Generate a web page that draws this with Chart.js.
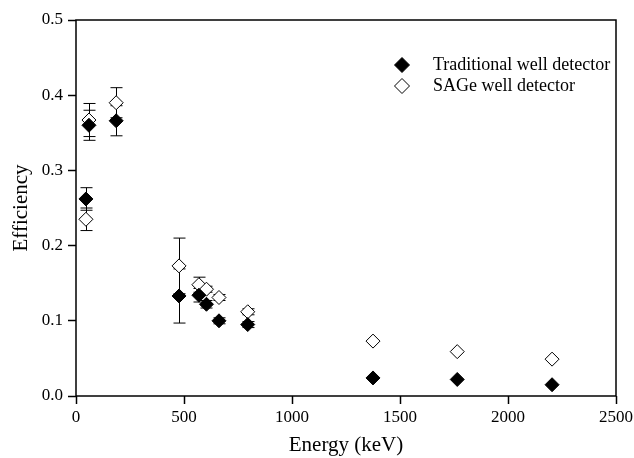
<!DOCTYPE html>
<html><head><meta charset="utf-8">
<script src="https://cdn.jsdelivr.net/npm/chart.js@4"></script>
<style>html,body{margin:0;padding:0;background:#fff}#w{width:634px;height:458px}</style>
</head><body><div id="w"><canvas id="c" width="634" height="458"></canvas></div>
<script>
const energies = [46, 60, 186, 477, 569, 604, 662, 795, 1375, 1765, 2204];
const tradEff = [0.262, 0.360, 0.366, 0.133, 0.134, 0.122, 0.100, 0.095, 0.024, 0.022, 0.015];
const sageEff = [0.235, 0.367, 0.390, 0.173, 0.148, 0.142, 0.131, 0.112, 0.073, 0.059, 0.049];
const tradErr = [0.015, 0.020, 0.020, 0.036, 0.009, 0.005, 0.004, 0.004, 0, 0, 0];
const sageErr = [0.015, 0.022, 0.020, 0.037, 0.010, 0.004, 0.004, 0.004, 0, 0, 0];
const xTicks = [0, 500, 1000, 1500, 2000, 2500];
const yTicks = [0, 0.1, 0.2, 0.3, 0.4, 0.5];
const seriesNames = ['Traditional well detector', 'SAGe well detector'];

const FONT = "'Liberation Serif', 'DejaVu Serif', serif";

const errPlugin = {
  id: 'errbars',
  beforeDatasetsDraw(chart) {
    const ctx = chart.ctx, xs = chart.scales.x, ys = chart.scales.y;
    ctx.save();
    ctx.strokeStyle = '#000'; ctx.lineWidth = 1;
    [tradErr, sageErr].forEach((errs, di) => {
      const vals = di === 0 ? tradEff : sageEff;
      energies.forEach((e, i) => {
        if (!errs[i]) return;
        const x = Math.round(xs.getPixelForValue(e)) + 0.5;
        const y1 = ys.getPixelForValue(vals[i] - errs[i]);
        const y2 = ys.getPixelForValue(vals[i] + errs[i]);
        ctx.beginPath();
        ctx.moveTo(x, y1); ctx.lineTo(x, y2);
        ctx.moveTo(x - 6, y1); ctx.lineTo(x + 6, y1);
        ctx.moveTo(x - 6, y2); ctx.lineTo(x + 6, y2);
        ctx.stroke();
      });
    });
    ctx.restore();
  },
  afterDraw(chart) {
    const ctx = chart.ctx, a = chart.chartArea;
    ctx.save();
    ctx.strokeStyle = '#000'; ctx.lineWidth = 1.5;
    ctx.strokeRect(a.left, a.top, a.right - a.left, a.bottom - a.top);
    // legend
    ctx.font = "18px " + FONT;
    ctx.textBaseline = 'middle';
    const lx = 402, ly = [65, 86];
    seriesNames.forEach((n, i) => {
      const y = ly[i], r = 7.5;
      ctx.beginPath();
      ctx.moveTo(lx, y - r); ctx.lineTo(lx + r, y); ctx.lineTo(lx, y + r); ctx.lineTo(lx - r, y); ctx.closePath();
      ctx.fillStyle = i === 0 ? '#000' : '#fff';
      ctx.fill();
      ctx.lineWidth = 1; ctx.stroke();
      ctx.fillStyle = '#000';
      ctx.fillText(n, 433, y);
    });
    ctx.restore();
  }
};

new Chart(document.getElementById('c'), {
  type: 'scatter',
  data: {
    datasets: [
      { label: seriesNames[0], data: energies.map((e, i) => ({x: e, y: tradEff[i]})),
        pointStyle: 'rectRot', pointRadius: 7, backgroundColor: '#000', borderColor: '#000', borderWidth: 1 },
      { label: seriesNames[1], data: energies.map((e, i) => ({x: e, y: sageEff[i]})),
        pointStyle: 'rectRot', pointRadius: 7, backgroundColor: '#fff', borderColor: '#000', borderWidth: 1 }
    ]
  },
  options: {
    responsive: false, animation: false, devicePixelRatio: 1,
    layout: { padding: { top: 20, right: 18, left: 0, bottom: 0 } },
    plugins: { legend: { display: false }, tooltip: { enabled: false } },
    scales: {
      x: {
        type: 'linear', min: 0, max: 2500,
        afterBuildTicks: s => { s.ticks = xTicks.map(v => ({value: v})); },
        afterFit: s => { s.height = 62; s.paddingRight = 0; s.paddingLeft = 0; },
        grid: { display: true, drawOnChartArea: false, drawTicks: true, tickLength: 8, tickColor: '#000', tickWidth: 1.5 },
        border: { display: false },
        ticks: { color: '#000', font: { family: FONT, size: 17 }, padding: 3, maxRotation: 0, callback: v => String(v) },
        title: { display: true, text: 'Energy (keV)', color: '#000', font: { family: FONT, size: 21 }, padding: { top: 0, bottom: 0 } }
      },
      y: {
        type: 'linear', min: 0, max: 0.5,
        afterBuildTicks: s => { s.ticks = yTicks.map(v => ({value: v})); },
        afterFit: s => { s.width = 76; s.paddingTop = 0; s.paddingBottom = 0; },
        grid: { display: true, drawOnChartArea: false, drawTicks: true, tickLength: 8, tickColor: '#000', tickWidth: 1.5 },
        border: { display: false },
        ticks: { color: '#000', font: { family: FONT, size: 17 }, padding: 5, callback: v => v.toFixed(1) },
        title: { display: true, text: 'Efficiency', color: '#000', font: { family: FONT, size: 21 }, padding: { top: 9, bottom: 0 } }
      }
    }
  },
  plugins: [errPlugin]
});
</script></body></html>
